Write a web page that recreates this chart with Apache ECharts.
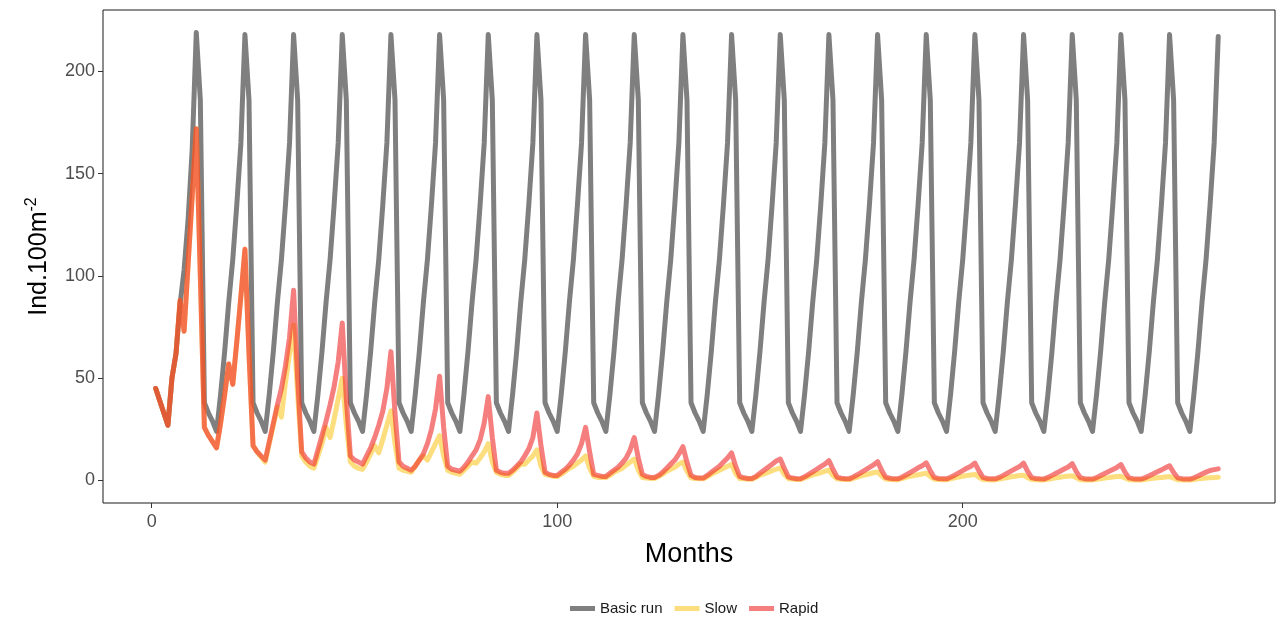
<!DOCTYPE html>
<html>
<head>
<meta charset="utf-8">
<title>Ind.100m-2 by month</title>
<script src="https://cdn.jsdelivr.net/npm/echarts@6/dist/echarts.min.js"></script>
<style>
  html, body { margin: 0; padding: 0; background: #ffffff; }
  #chart { width: 1282px; height: 621px; }
</style>
</head>
<body>
<div id="chart"></div>
<script>
// Simulated density (individuals per 100 m²), one value per month, months 1..263.
// Rows: first partial year (months 1-11), then one row per 12 months (12-23, 24-35, ...).
const basicRun = [
  45, 39, 33, 27, 50, 62, 86, 103, 128, 162, 219,
  186, 38, 33, 29, 24, 42, 63, 87, 108, 135, 165, 218,
  186, 38, 33, 29, 24, 42, 63, 87, 108, 135, 165, 218,
  186, 38, 33, 29, 24, 42, 63, 87, 108, 135, 165, 218,
  186, 38, 33, 29, 24, 42, 63, 87, 108, 135, 165, 218,
  186, 38, 33, 29, 24, 42, 63, 87, 108, 135, 165, 218,
  186, 38, 33, 29, 24, 42, 63, 87, 108, 135, 165, 218,
  186, 38, 33, 29, 24, 42, 63, 87, 108, 135, 165, 218,
  186, 38, 33, 29, 24, 42, 63, 87, 108, 135, 165, 218,
  186, 38, 33, 29, 24, 42, 63, 87, 108, 135, 165, 218,
  186, 38, 33, 29, 24, 42, 63, 87, 108, 135, 165, 218,
  186, 38, 33, 29, 24, 42, 63, 87, 108, 135, 165, 218,
  186, 38, 33, 29, 24, 42, 63, 87, 108, 135, 165, 218,
  186, 38, 33, 29, 24, 42, 63, 87, 108, 135, 165, 218,
  186, 38, 33, 29, 24, 42, 63, 87, 108, 135, 165, 218,
  186, 38, 33, 29, 24, 42, 63, 87, 108, 135, 165, 218,
  186, 38, 33, 29, 24, 42, 63, 87, 108, 135, 165, 218,
  186, 38, 33, 29, 24, 42, 63, 87, 108, 135, 165, 218,
  186, 38, 33, 29, 24, 42, 63, 87, 108, 135, 165, 218,
  186, 38, 33, 29, 24, 42, 63, 87, 108, 135, 165, 218,
  186, 38, 33, 29, 24, 42, 63, 87, 108, 135, 165, 218,
  186, 38, 33, 29, 24, 42, 63, 87, 108, 135, 165, 217
];

const slow = [
  45, 39, 33, 27, 50, 62, 88, 73, 106, 139, 172,
  100, 26, 22, 19, 16, 28, 42, 57, 47, 68, 90, 113,
  62, 17, 14, 11.5, 9, 18, 27, 36, 31, 48, 62, 76,
  42, 12, 9, 7, 6, 12, 18, 26, 21, 30, 40, 50,
  27, 9, 7, 6, 5.5, 9, 13, 17, 13.5, 20, 27, 34,
  18, 6, 5, 4.5, 4, 7, 10, 12, 10, 14, 18, 22,
  12, 5, 4, 3.5, 3, 5, 7, 9, 8.5, 11, 14, 18,
  9, 4, 3, 2.5, 2.5, 4, 6, 8, 8, 10, 12, 15,
  7, 3, 2.5, 2, 2, 3, 4.5, 6, 7, 8.5, 10, 12,
  6, 2, 1.5, 1.5, 1.5, 2.5, 4, 5, 6, 7.5, 9, 10.5,
  5, 1.5, 1.2, 1, 1, 2, 3, 4.5, 5.5, 6.5, 8, 9,
  4.5, 1.2, 1, 0.8, 0.8, 1.8, 3, 4, 5, 6, 7, 7.8,
  3.5, 1, 0.8, 0.6, 0.6, 1.5, 2.5, 3.2, 4, 4.8, 5.5, 6.2,
  3, 0.9, 0.7, 0.5, 0.5, 1.2, 2, 2.7, 3.3, 3.9, 4.5, 5,
  2.5, 0.8, 0.6, 0.5, 0.5, 1, 1.7, 2.3, 2.8, 3.3, 3.8, 4.2,
  2.2, 0.7, 0.5, 0.4, 0.4, 0.9, 1.5, 2, 2.4, 2.8, 3.2, 3.6,
  1.9, 0.6, 0.5, 0.4, 0.4, 0.8, 1.3, 1.7, 2.1, 2.4, 2.7, 3,
  1.6, 0.5, 0.4, 0.3, 0.3, 0.7, 1.1, 1.5, 1.8, 2.1, 2.4, 2.6,
  1.4, 0.5, 0.4, 0.3, 0.3, 0.6, 1, 1.3, 1.6, 1.9, 2.1, 2.3,
  1.3, 0.4, 0.3, 0.3, 0.3, 0.6, 0.9, 1.2, 1.4, 1.7, 1.9, 2.1,
  1.2, 0.4, 0.3, 0.3, 0.3, 0.5, 0.8, 1.1, 1.3, 1.5, 1.7, 1.9,
  1.1, 0.4, 0.3, 0.2, 0.2, 0.5, 0.8, 1, 1.2, 1.4, 1.5, 1.6
];

const rapid = [
  45, 39, 33, 27, 50, 62, 88, 73, 106, 139, 172,
  100, 26, 22, 19, 16, 28, 42, 57, 47, 68, 90, 113,
  62, 17, 14, 12, 10, 19, 28, 37, 45, 56, 70, 93,
  50, 14, 11, 9, 8, 15, 22, 29, 37, 46, 58, 77,
  40, 12, 10, 9, 8, 12, 16, 21, 27, 34, 45, 63,
  33, 9, 7, 6, 5, 7, 10, 13, 18, 25, 35, 51,
  26, 7, 5.5, 5, 4.5, 6.5, 9, 12, 15, 20, 28, 41,
  21, 5, 4, 3.5, 3.5, 5, 7, 9, 12, 15.5, 21, 33,
  17, 4, 3, 2.5, 2.5, 4, 5.5, 7.5, 10, 13, 18, 26,
  14, 3, 2.5, 2, 2, 3.5, 5, 6.5, 8.5, 11, 15, 21,
  11, 3, 2, 1.5, 1.5, 2.5, 4, 6, 8, 10, 13, 16.5,
  9, 2.5, 1.5, 1.2, 1.2, 2.5, 4, 5.5, 7, 9, 11, 13.5,
  7, 2, 1.3, 1, 1, 2, 3.5, 5, 6.5, 8, 9.5, 10.5,
  6, 1.8, 1.2, 0.9, 0.9, 1.8, 3, 4.2, 5.5, 6.8, 8, 9.7,
  5.5, 1.7, 1.1, 0.9, 0.8, 1.7, 2.8, 4, 5.2, 6.4, 7.6, 9.2,
  5, 1.6, 1.1, 0.8, 0.8, 1.6, 2.7, 3.8, 5, 6.2, 7.2, 8.6,
  4.8, 1.5, 1, 0.8, 0.8, 1.6, 2.6, 3.7, 4.8, 6, 7, 8.5,
  4.7, 1.5, 1, 0.8, 0.8, 1.5, 2.5, 3.6, 4.7, 5.8, 6.8, 8.5,
  4.5, 1.4, 1, 0.8, 0.7, 1.5, 2.5, 3.5, 4.5, 5.6, 6.6, 8.2,
  4.3, 1.4, 0.9, 0.7, 0.7, 1.4, 2.4, 3.4, 4.4, 5.4, 6.4, 7.8,
  4.1, 1.3, 0.9, 0.7, 0.7, 1.4, 2.3, 3.3, 4.3, 5.2, 6.2, 7.2,
  3.9, 1.3, 0.9, 0.7, 0.7, 1.3, 2.2, 3.2, 4.1, 4.9, 5.3, 5.7
];

// Month index for each value (1, 2, 3, ...)
const months = basicRun.map((_, i) => i + 1);

const xTicks = [0, 100, 200];
const yTicks = [0, 50, 100, 150, 200];

const seriesNames = ['Basic run', 'Slow', 'Rapid'];
const seriesColors = ['#7f7f7f', 'rgba(252, 200, 40, 0.6)', 'rgba(238, 40, 40, 0.6)'];
const seriesValues = [basicRun, slow, rapid];

const FONT = 'Liberation Sans, Arial, Helvetica, sans-serif';

const chart = echarts.init(document.getElementById('chart'), null, { renderer: 'canvas' });

chart.setOption({
  animation: false,
  backgroundColor: '#ffffff',
  textStyle: { fontFamily: FONT },
  grid: {
    left: 103, right: 7, top: 10, bottom: 118,
    show: true, borderColor: '#1a1a1a', borderWidth: 1, backgroundColor: 'transparent'
  },
  legend: {
    data: seriesNames,
    top: 596,
    left: 565,
    icon: 'rect',
    itemWidth: 25,
    itemHeight: 5,
    itemGap: 12,
    textStyle: { fontFamily: FONT, fontSize: 15, color: '#1a1a1a' }
  },
  xAxis: {
    type: 'value',
    min: -12,
    max: 277,
    name: 'Months',
    nameLocation: 'middle',
    nameGap: 38,
    nameTextStyle: { fontFamily: FONT, fontSize: 27, color: '#000000' },
    axisLine: { show: false, onZero: false },
    splitLine: { show: false },
    axisTick: { show: true, customValues: xTicks, length: 5, lineStyle: { color: '#333333', width: 1 } },
    axisLabel: { customValues: xTicks, fontSize: 18, color: '#4d4d4d', margin: 10 }
  },
  yAxis: {
    type: 'value',
    min: -11,
    max: 230,
    name: '{a|Ind.100m}{s|-2}',
    nameLocation: 'middle',
    nameGap: 51,
    nameRotate: 90,
    nameTextStyle: {
      fontFamily: FONT,
      color: '#000000',
      rich: {
        a: { fontFamily: FONT, fontSize: 25, color: '#000000', verticalAlign: 'bottom' },
        s: { fontFamily: FONT, fontSize: 16, color: '#000000', verticalAlign: 'bottom', padding: [0, 0, 12, 0] }
      }
    },
    axisLine: { show: false, onZero: false },
    splitLine: { show: false },
    axisTick: { show: true, customValues: yTicks, length: 5, lineStyle: { color: '#333333', width: 1 } },
    axisLabel: { customValues: yTicks, fontSize: 18, color: '#4d4d4d', margin: 8 }
  },
  series: seriesNames.map((name, k) => ({
    name,
    type: 'line',
    symbol: 'none',
    showSymbol: false,
    color: seriesColors[k],
    lineStyle: { color: seriesColors[k], width: 5, join: 'round', cap: 'round' },
    emphasis: { disabled: true },
    z: 2 + k,
    data: months.map((m, i) => [m, seriesValues[k][i]])
  }))
});
</script>
</body>
</html>
